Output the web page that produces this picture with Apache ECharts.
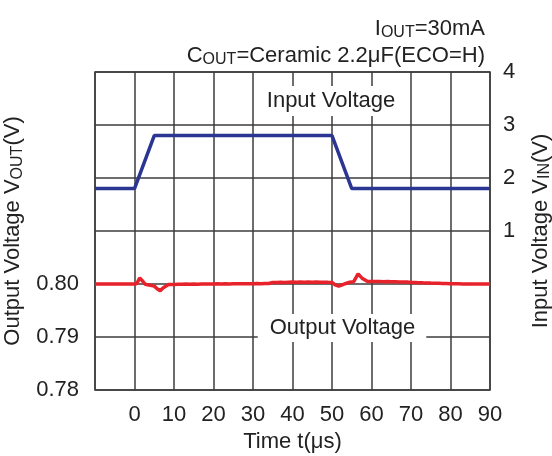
<!DOCTYPE html>
<html>
<head>
<meta charset="utf-8">
<script src="https://cdn.jsdelivr.net/npm/echarts@6/dist/echarts.min.js"></script>
<style>
  html, body { margin: 0; padding: 0; background: #fff; }
  #chart { width: 552px; height: 456px; }
</style>
</head>
<body>
<div id="chart"></div>
<script>
// Input voltage step (V) vs time (µs)
const tIn = [-10, 0, 5, 50, 55, 90];
const vIn = [1.8, 1.8, 2.8, 2.8, 1.8, 1.8];

// Output voltage response (V) vs time (µs)
const tOut = [-10, -9, -8, -7, -6, -5, -4, -3, -2, -1, 0, 0.6, 1.3, 2.0, 2.7, 4.0, 5.0, 5.8, 6.5, 7.3, 8.6,
  10, 11, 12, 13, 14, 15, 16, 17, 18, 19, 20, 21, 22, 23, 24, 25, 26, 27, 28, 29, 30, 31, 32, 33, 34, 35,
  36, 37, 38, 39, 40, 41, 42, 43, 44, 45, 46, 47, 48, 49, 50, 50.8, 51.7, 52.6, 53.5, 54.5, 55.5, 56.6,
  57.6, 58.9, 60, 61, 62, 63, 64, 65, 66, 67, 68, 69, 70, 71, 72, 73, 74, 75, 76, 77, 78, 79, 80, 81,
  82, 83, 84, 85, 86, 87, 88, 89, 90];
const vOut = [0.80000, 0.80002, 0.79999, 0.80001, 0.80000, 0.80002, 0.79999, 0.80001, 0.80000, 0.80001,
  0.80000, 0.80010, 0.80112, 0.80060, 0.79995, 0.79975, 0.79960, 0.79905, 0.79875, 0.79930, 0.79990,
  0.79992, 0.79996, 0.79993, 0.79998, 0.79995, 0.79999, 0.79996, 0.80000, 0.79998, 0.80001, 0.80000,
  0.80003, 0.80001, 0.80004, 0.80002, 0.80005, 0.80003, 0.80006, 0.80004, 0.80007, 0.80005, 0.80008,
  0.80006, 0.80009, 0.80010, 0.80030, 0.80028, 0.80033, 0.80030, 0.80034, 0.80036, 0.80032, 0.80037,
  0.80034, 0.80036, 0.80033, 0.80037, 0.80034, 0.80035, 0.80032, 0.80030, 0.79985, 0.79962, 0.79985,
  0.80010, 0.80035, 0.80045, 0.80190, 0.80110, 0.80050, 0.80048, 0.80045, 0.80047, 0.80043, 0.80045,
  0.80041, 0.80043, 0.80039, 0.80040, 0.80036, 0.80030, 0.80028, 0.80025, 0.80022, 0.80020, 0.80017,
  0.80015, 0.80013, 0.80010, 0.80008, 0.80006, 0.80004, 0.80003, 0.80001, 0.80002, 0.79999, 0.80001,
  0.80000, 0.79999, 0.80001, 0.80000];

// Tick labels that are shown on each axis
const timeTicks = [0, 10, 20, 30, 40, 50, 60, 70, 80, 90];
const voutTicks = ['0.78', '0.79', '0.80'];
const vinTicks = [1, 2, 3, 4];

const FONT = '"Liberation Sans", Arial, sans-serif';
const TXT = '#222';
const GRID = '#3c3c3c';
const FS = 22;
const SUB = 16;

// normal text and small-caps subscripts sharing one baseline
const rich = {
  n: { fontSize: FS, fontFamily: FONT, fontWeight: 'normal', color: TXT, lineHeight: 25 },
  s: { fontSize: SUB, fontFamily: FONT, fontWeight: 'normal', color: TXT, lineHeight: 21, verticalAlign: 'bottom' }
};

const chart = echarts.init(document.getElementById('chart'), null, { renderer: 'canvas' });

chart.setOption({
  animation: false,
  backgroundColor: '#fff',
  title: [
    { text: '{n|I}{s|OUT}{n|=30mA}', right: 62, top: 11, textStyle: { fontWeight: 'normal', rich } },
    { text: '{n|C}{s|OUT}{n|=Ceramic 2.2μF(ECO=H)}', right: 62, top: 38, textStyle: { fontWeight: 'normal', rich } }
  ],
  grid: {
    left: 95, right: 62, top: 72, bottom: 66,
    outerBoundsMode: 'none', containLabel: false,
    show: true, borderColor: GRID, borderWidth: 1.5, backgroundColor: 'transparent'
  },
  xAxis: {
    type: 'value', min: -10, max: 90, interval: 10,
    name: 'Time t(μs)', nameLocation: 'middle', nameGap: 41,
    nameTextStyle: { fontSize: FS, fontFamily: FONT, color: TXT },
    axisLine: { show: false }, axisTick: { show: false },
    axisLabel: {
      margin: 14, fontSize: FS, fontFamily: FONT, color: TXT,
      formatter: v => (timeTicks.includes(Math.round(v)) ? String(Math.round(v)) : '')
    },
    splitLine: { show: true, lineStyle: { color: GRID, width: 1.5 } }
  },
  yAxis: [
    {
      type: 'value', min: 0.78, max: 0.84, interval: 0.01, position: 'left',
      name: '{n|Output Voltage V}{s|OUT}{n|(V)}', nameLocation: 'middle', nameGap: 61, nameRotate: 90,
      nameTextStyle: { rich },
      axisLine: { show: false }, axisTick: { show: false },
      axisLabel: {
        margin: 16, fontSize: FS, fontFamily: FONT, color: TXT,
        formatter: v => { const s = v.toFixed(2); return voutTicks.includes(s) ? s : ''; }
      },
      splitLine: { show: true, lineStyle: { color: GRID, width: 1.5 } }
    },
    {
      type: 'value', min: -2, max: 4, interval: 1, position: 'right',
      name: '{n|Input Voltage V}{s|IN}{n|(V)}', nameLocation: 'middle', nameGap: 38, nameRotate: 90,
      nameTextStyle: { rich },
      axisLine: { show: false }, axisTick: { show: false },
      axisLabel: {
        margin: 13, fontSize: FS, fontFamily: FONT, color: TXT,
        formatter: v => (vinTicks.includes(Math.round(v)) ? String(Math.round(v)) : '')
      },
      splitLine: { show: false }
    }
  ],
  graphic: [
    {
      type: 'text', z: 10,
      style: {
        text: 'Input Voltage', x: 331, y: 101, align: 'center', verticalAlign: 'middle',
        font: FS + 'px ' + FONT, fill: TXT, backgroundColor: '#fff', padding: [3, 8, 5, 8]
      }
    },
    {
      type: 'text', z: 10,
      style: {
        text: 'Output Voltage', x: 342, y: 328, align: 'center', verticalAlign: 'middle',
        font: FS + 'px ' + FONT, fill: TXT, backgroundColor: '#fff', padding: [3, 11, 3, 12]
      }
    }
  ],
  series: [
    {
      name: 'Input Voltage', type: 'line', yAxisIndex: 1, showSymbol: false, z: 3,
      data: tIn.map((t, i) => [t, vIn[i]]),
      lineStyle: { color: '#2b3592', width: 3.5 }
    },
    {
      name: 'Output Voltage', type: 'line', yAxisIndex: 0, showSymbol: false, z: 4,
      data: tOut.map((t, i) => [t, vOut[i]]),
      lineStyle: { color: '#e8222b', width: 3.5 }
    }
  ]
});
</script>
</body>
</html>
